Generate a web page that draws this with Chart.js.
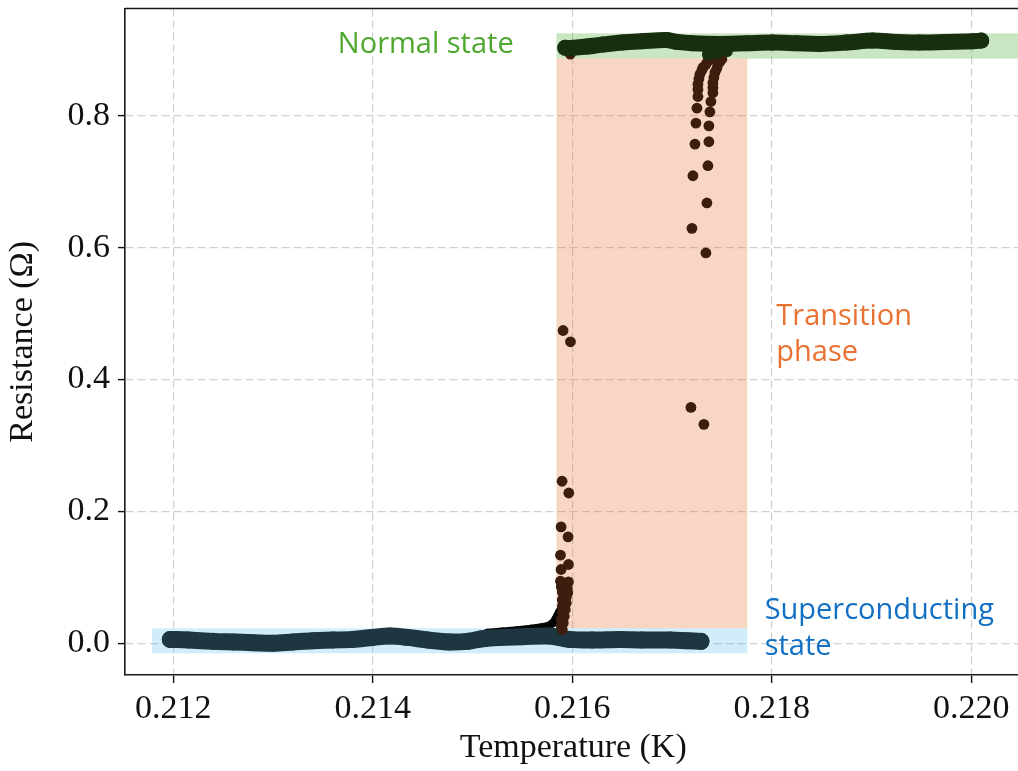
<!DOCTYPE html>
<html>
<head>
<meta charset="utf-8">
<script src="https://cdn.jsdelivr.net/npm/chart.js@4.4.1/dist/chart.umd.min.js"></script>
<style>
  html, body { margin: 0; padding: 0; background: #ffffff; overflow: hidden; }
  #wrap { position: relative; width: 1030px; height: 771px; }
</style>
</head>
<body>
<div id="wrap"><canvas id="rt" width="1030" height="771"></canvas></div>
<script>
// ---- R(T) sweep data: temperature in K, resistance in ohm ----

// superconducting branch (dense trace below Tc)
const superTemp = [0.21197, 0.21215, 0.21240, 0.21260, 0.21280, 0.21300, 0.21320, 0.21340, 0.21360, 0.21380,
                   0.21400, 0.21417, 0.21435, 0.21455, 0.21477, 0.21495, 0.21510, 0.21527, 0.21550, 0.21577,
                   0.21597, 0.21620, 0.21648, 0.21670, 0.21698, 0.21715, 0.21729];
const superRes  = [0.006, 0.005, 0.003, 0.002, 0.001, 0.000, 0.002, 0.004, 0.005, 0.006,
                   0.009, 0.011, 0.009, 0.005, 0.002, 0.003, 0.007, 0.009, 0.010, 0.011,
                   0.006, 0.005, 0.006, 0.005, 0.005, 0.004, 0.003];

// onset of the rise just below Tc
const onsetTemp = [0.21515, 0.21530, 0.21545, 0.21558, 0.21568, 0.21575, 0.21580, 0.21583, 0.21585, 0.21587];
const onsetRes  = [0.016, 0.018, 0.020, 0.022, 0.024, 0.026, 0.030, 0.036, 0.042, 0.048];

// transition points (warming jump near 0.2159 K, two cooling branches near 0.2173 K)
const transTemp = [0.21598,
  0.215908, 0.215982, 0.215898, 0.215965, 0.215888, 0.215958, 0.215882, 0.215962, 0.215888, 0.215882, 0.215962, 0.215955,
  0.21589, 0.21595, 0.21590, 0.21594, 0.21590, 0.21594, 0.21590, 0.21593, 0.21590, 0.21592, 0.21589, 0.21591, 0.21589, 0.21590,
  0.21719, 0.21720, 0.21721, 0.21723, 0.21724, 0.21725, 0.21726, 0.21726, 0.21726, 0.21727, 0.21728, 0.21730, 0.21731, 0.21734, 0.21736, 0.21739,
  0.21732, 0.21734, 0.21735, 0.21736, 0.21737, 0.21737, 0.21738, 0.21739, 0.21741, 0.21741, 0.21741, 0.21742, 0.21743, 0.21745, 0.21746, 0.21748, 0.21750];
const transRes  = [0.8936,
  0.4744, 0.4573, 0.2458, 0.2280, 0.1766, 0.1614, 0.1337, 0.1196, 0.1120, 0.0943, 0.0933, 0.0766,
  0.086, 0.083, 0.078, 0.070, 0.066, 0.061, 0.056, 0.051, 0.046, 0.041, 0.036, 0.031, 0.026, 0.021,
  0.3578, 0.6293, 0.7091, 0.7571, 0.7889, 0.8116, 0.8292, 0.840, 0.848, 0.856, 0.863, 0.869, 0.873, 0.878, 0.883, 0.887,
  0.3321, 0.5920, 0.6678, 0.7243, 0.7606, 0.7848, 0.8060, 0.8216, 0.835, 0.843, 0.850, 0.858, 0.8655, 0.872, 0.878, 0.882, 0.8858];

// normal-state branch (dense trace above Tc)
const normalTemp = [0.21593, 0.21600, 0.21615, 0.21631, 0.21650, 0.21670, 0.21694, 0.21705, 0.21720, 0.21748,
                    0.21775, 0.21801, 0.21825, 0.21848, 0.21875, 0.21901, 0.21925, 0.21948, 0.21975, 0.22002, 0.22010];
const normalRes  = [0.903, 0.903, 0.905, 0.908, 0.911, 0.913, 0.915, 0.912, 0.910, 0.909,
                    0.910, 0.911, 0.910, 0.909, 0.911, 0.914, 0.912, 0.911, 0.912, 0.913, 0.914];
const normalFootTemp = [0.21736, 0.21745, 0.21755];
const normalFootRes  = [0.893, 0.895, 0.898];

// axis ticks
const tempTicks = [0.212, 0.214, 0.216, 0.218, 0.220];
const resTicks  = [0.0, 0.2, 0.4, 0.6, 0.8];

// shaded regimes: [T from, T to, R from, R to]
const normalSpan     = [0.215842, 0.2206,   0.8867,  0.925];
const transitionSpan = [0.215842, 0.217755, 0.0227,  0.8867];
const superSpan      = [0.211787, 0.217755, -0.0151, 0.0227];

const T_MIN = 0.211516, T_MAX = 0.220504;
const R_MIN = -0.048,   R_MAX = 0.9627;

const pts = (xs, ys) => xs.map((x, i) => ({ x: x, y: ys[i] }));

const SERIF = "'Liberation Serif', 'Times New Roman', serif";
const SANS  = "'Open Sans', 'Noto Sans', sans-serif";

const regimeFills = [
  { span: normalSpan,     fill: 'rgba(80,170,50,0.30)' },
  { span: transitionSpan, fill: 'rgba(232,120,60,0.30)' },
  { span: superSpan,      fill: 'rgba(90,190,235,0.28)' }
];

const regimeLabels = [
  { lines: ['Normal state'],             t: 0.21365,  r: 0.8953, color: '#4ea72e' },
  { lines: ['Transition', 'phase'],      t: 0.218046, r: 0.482,  color: '#e97132' },
  { lines: ['Superconducting', 'state'], t: 0.217929, r: 0.0363, color: '#1170c4' }
];

const regimeShading = {
  id: 'regimeShading',
  beforeDatasetsDraw(chart) {
    const { ctx, chartArea: a, scales: { x, y } } = chart;
    ctx.save();
    ctx.beginPath();
    ctx.rect(a.left, a.top, a.right - a.left, a.bottom - a.top);
    ctx.clip();
    regimeFills.forEach(f => {
      const x0 = x.getPixelForValue(f.span[0]), x1 = x.getPixelForValue(f.span[1]);
      const y0 = y.getPixelForValue(f.span[3]), y1 = y.getPixelForValue(f.span[2]);
      ctx.fillStyle = f.fill;
      ctx.fillRect(x0, y0, x1 - x0, y1 - y0);
    });
    ctx.restore();
  }
};

const frameAndLabels = {
  id: 'frameAndLabels',
  afterDraw(chart) {
    const { ctx, chartArea: a, scales: { x, y } } = chart;
    ctx.save();
    ctx.strokeStyle = '#1a1a1a';
    ctx.lineWidth = 1.6;
    ctx.beginPath();
    ctx.moveTo(a.left, a.top);
    ctx.lineTo(a.right, a.top);
    ctx.lineTo(a.right, a.bottom);
    ctx.stroke();

    ctx.font = "29px " + SANS;
    ctx.textAlign = 'left';
    ctx.textBaseline = 'alphabetic';
    regimeLabels.forEach(l => {
      const px = x.getPixelForValue(l.t), py = y.getPixelForValue(l.r);
      ctx.fillStyle = l.color;
      l.lines.forEach((s, i) => ctx.fillText(s, px, py + i * 36));
    });
    ctx.restore();
  }
};

new Chart(document.getElementById('rt'), {
  type: 'scatter',
  data: {
    datasets: [
      { label: 'normal', data: pts(normalTemp, normalRes), order: 0, showLine: true, tension: 0.35,
        borderColor: '#172f0f', backgroundColor: '#172f0f', borderWidth: 16,
        borderCapStyle: 'round', borderJoinStyle: 'round', pointRadius: 8, pointBorderWidth: 0 },
      { label: 'normal foot', data: pts(normalFootTemp, normalFootRes), order: 0.5,
        backgroundColor: '#172f0f', pointRadius: 6, pointBorderWidth: 0 },
      { label: 'transition', data: pts(transTemp, transRes), order: 1,
        backgroundColor: '#3c1d0e', pointRadius: 5.4, pointBorderWidth: 0 },
      { label: 'superconducting', data: pts(superTemp, superRes), order: 2, showLine: true, tension: 0.35,
        borderColor: '#1e3640', backgroundColor: '#1e3640', borderWidth: 17,
        borderCapStyle: 'round', borderJoinStyle: 'round', pointRadius: 8.5, pointBorderWidth: 0 },
      { label: 'onset', data: pts(onsetTemp, onsetRes), order: 3, showLine: true,
        borderColor: '#050505', backgroundColor: '#050505', borderWidth: 8,
        borderCapStyle: 'round', borderJoinStyle: 'round', pointRadius: 4, pointBorderWidth: 0 }
    ]
  },
  options: {
    responsive: false,
    animation: false,
    devicePixelRatio: 1,
    layout: { padding: { top: 7.5, right: 8, left: 0, bottom: 0 } },
    plugins: { legend: { display: false }, tooltip: { enabled: false } },
    scales: {
      x: {
        type: 'linear', min: T_MIN, max: T_MAX,
        afterBuildTicks: s => { s.ticks = tempTicks.map(v => ({ value: v })); },
        afterFit: s => { s.height = 96; s.paddingLeft = 0; s.paddingRight = 0; },
        ticks: { font: { family: SERIF, size: 34 }, color: '#111', padding: 6, maxRotation: 0, autoSkip: false,
                 callback: v => Number(v).toFixed(3) },
        grid: { color: '#cfcfcf', lineWidth: 1.2, tickColor: '#111', tickLength: 8, tickWidth: 1.4 },
        border: { display: true, color: '#1a1a1a', width: 1.6, dash: [8, 4] },
        title: { display: true, text: 'Temperature (K)', color: '#111',
                 font: { family: SERIF, size: 34 }, padding: { top: 0, bottom: 3 } }
      },
      y: {
        type: 'linear', min: R_MIN, max: R_MAX,
        afterBuildTicks: s => { s.ticks = resTicks.map(v => ({ value: v })); },
        afterFit: s => { s.width = 125; s.paddingTop = 0; s.paddingBottom = 0; },
        ticks: { font: { family: SERIF, size: 34 }, color: '#111', padding: 8,
                 callback: v => Number(v).toFixed(1) },
        grid: { color: '#cfcfcf', lineWidth: 1.2, tickColor: '#111', tickLength: 7, tickWidth: 1.4 },
        border: { display: true, color: '#1a1a1a', width: 1.6, dash: [8, 4] },
        title: { display: true, text: 'Resistance (Ω)', color: '#111',
                 font: { family: SERIF, size: 34 }, padding: { top: 3, bottom: 0 } }
      }
    }
  },
  plugins: [regimeShading, frameAndLabels]
});
</script>
</body>
</html>
